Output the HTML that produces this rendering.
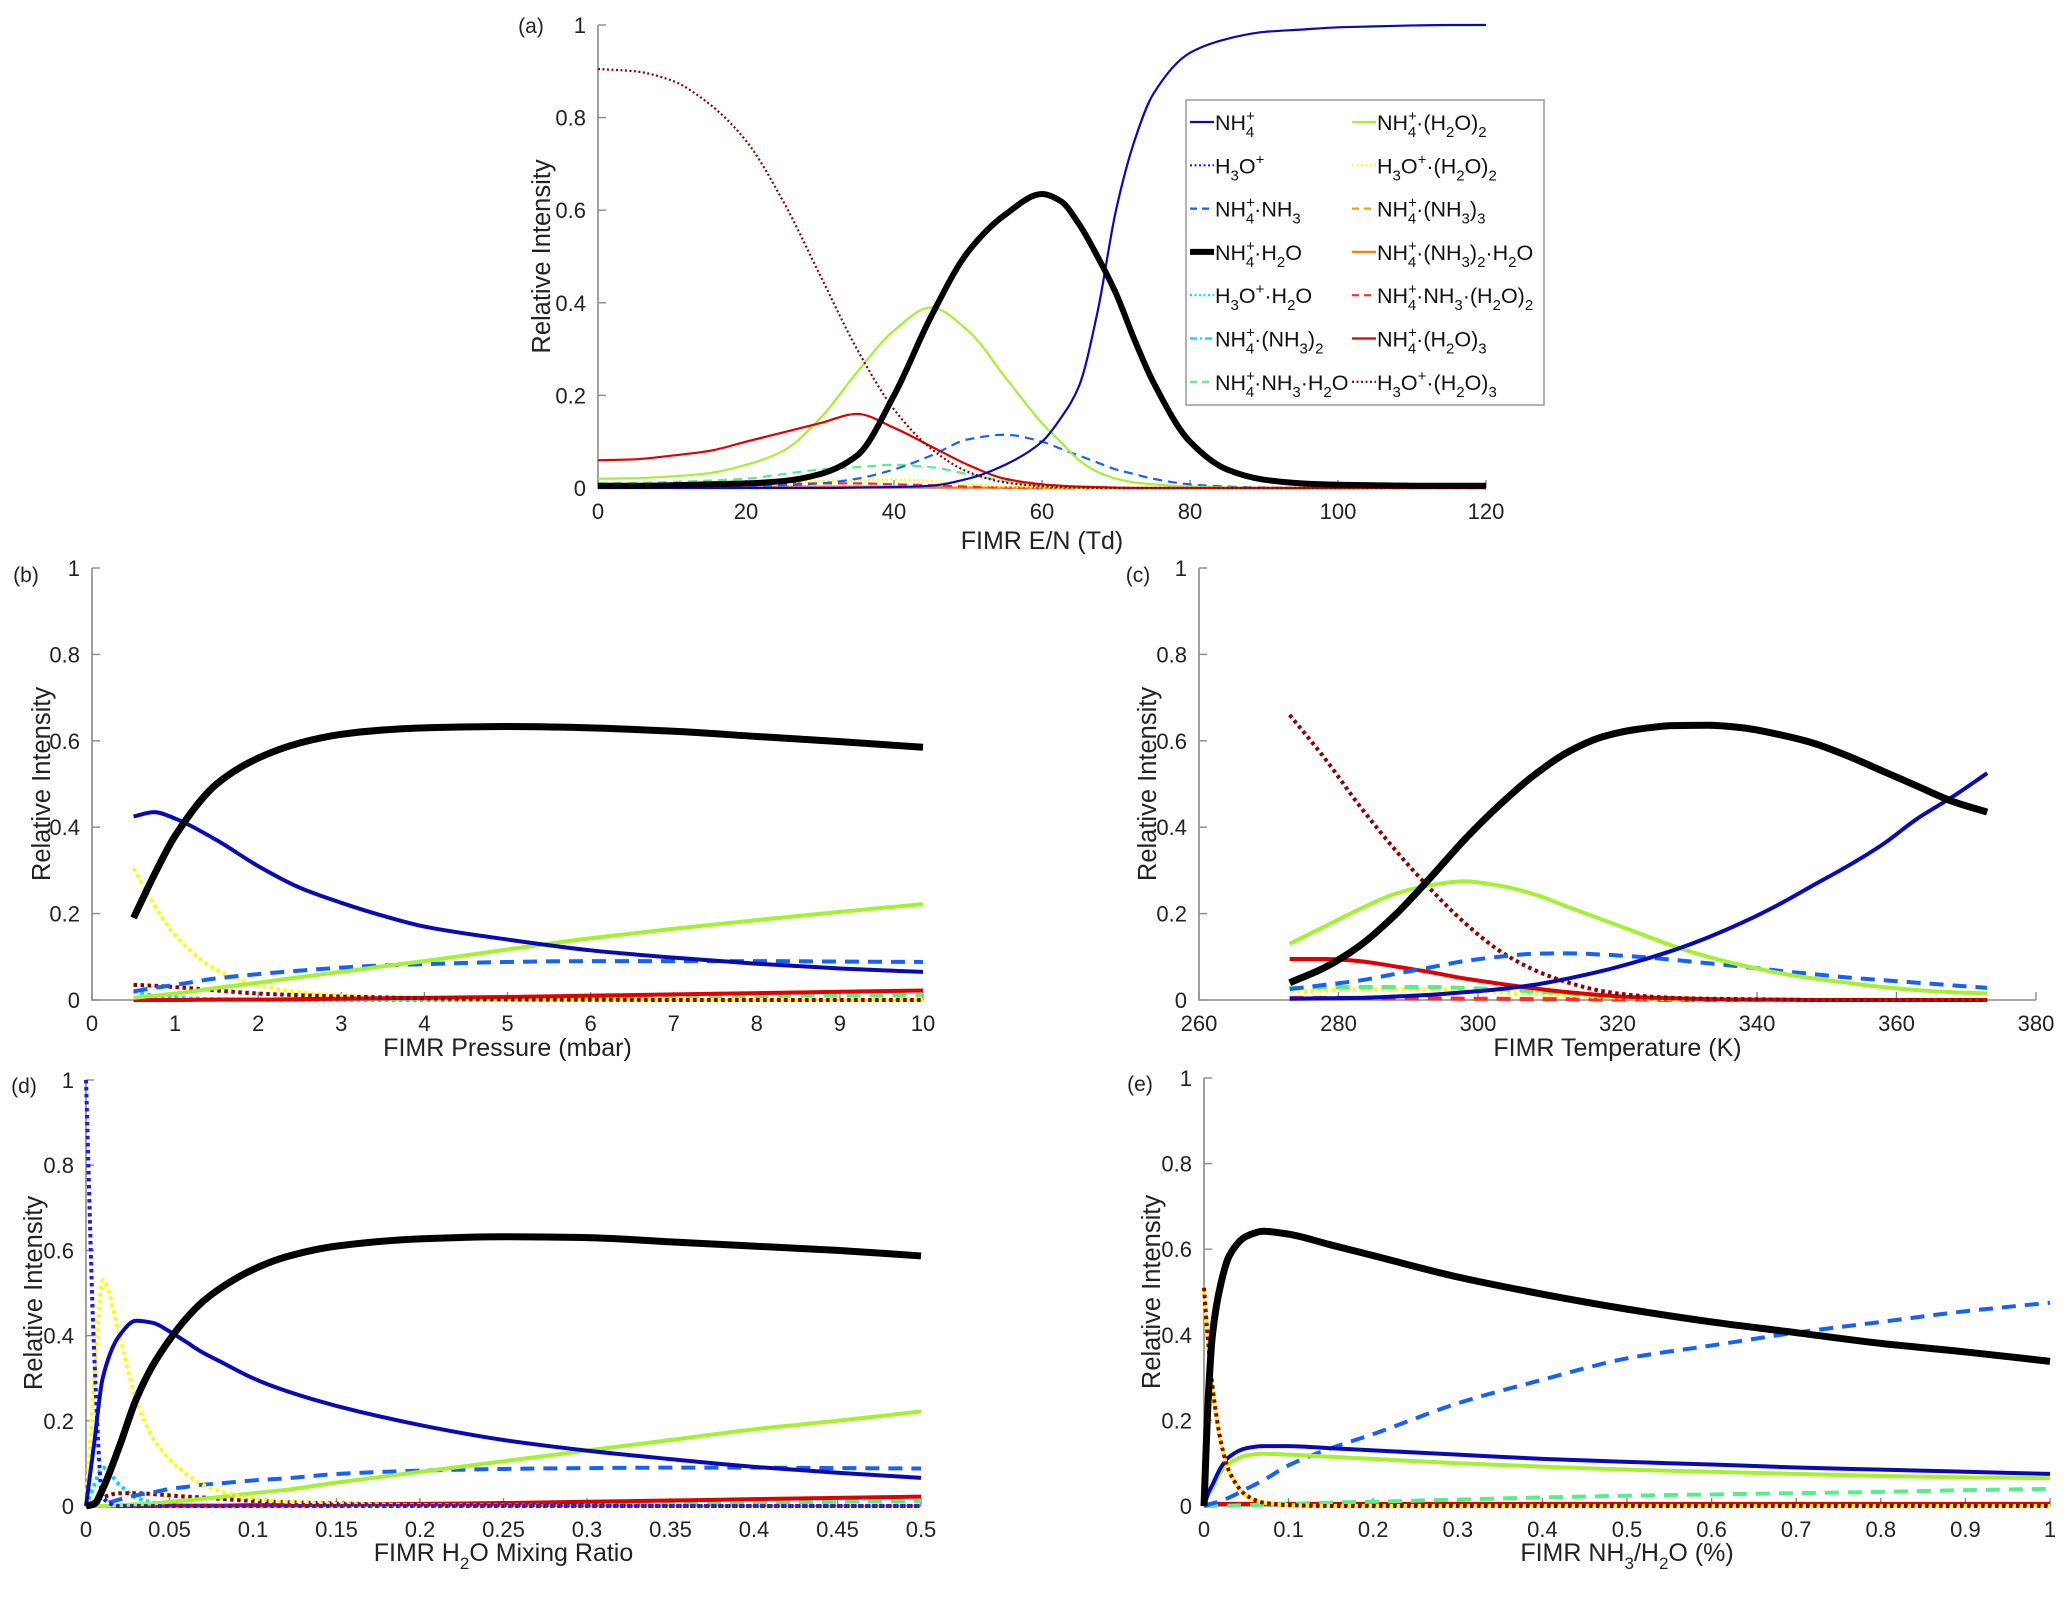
<!DOCTYPE html>
<html><head><meta charset="utf-8"><style>
html,body{margin:0;padding:0;background:#fff;}
svg{display:block;font-family:"Liberation Sans",sans-serif;}
</style></head><body>
<svg id="fig" width="2067" height="1597" viewBox="0 0 2067 1597" xmlns="http://www.w3.org/2000/svg">
<g id="layer"></g>
<g id="legend">
<rect x="1186" y="100" width="358" height="305" fill="#fff" stroke="#999" stroke-width="1.5"/>
</g>
</svg>
<script>
// ---------- Panel (a) data: FIMR E/N ----------
const aX=[0,5,10,15,20,25,30,35,40,45,50,55,60,62.5,65,67.5,70,72.5,75,80,85,90,95,100,105,110,115,120];
const aNH4=[0,0,0,0,0,0,0,0.001,0.002,0.005,0.02,0.05,0.1,0.15,0.22,0.38,0.6,0.75,0.85,0.94,0.97,0.985,0.99,0.995,0.997,0.999,1,1];
const aNH3=[0.002,0.002,0.002,0.003,0.004,0.006,0.01,0.02,0.04,0.07,0.105,0.115,0.1,0.085,0.07,0.055,0.04,0.03,0.02,0.008,0.003,0.001,0,0,0,0,0,0];
const aH2O=[0.005,0.005,0.006,0.008,0.01,0.015,0.03,0.07,0.2,0.37,0.51,0.59,0.635,0.62,0.57,0.5,0.42,0.32,0.23,0.1,0.04,0.018,0.01,0.007,0.006,0.005,0.005,0.005];
const aNH3H2O=[0.01,0.011,0.013,0.016,0.02,0.03,0.04,0.045,0.05,0.045,0.03,0.015,0.005,0.003,0.001,0,0,0,0,0,0,0,0,0,0,0,0,0];
const aH2O2=[0.02,0.021,0.025,0.032,0.05,0.08,0.15,0.25,0.34,0.39,0.34,0.24,0.14,0.1,0.06,0.035,0.02,0.012,0.008,0.003,0.001,0,0,0,0,0,0,0];
const aH3OH2O2=[0.008,0.008,0.009,0.01,0.01,0.012,0.015,0.017,0.018,0.015,0.008,0.003,0.001,0,0,0,0,0,0,0,0,0,0,0,0,0,0,0];
const aNH32H2O=[0.003,0.003,0.003,0.003,0.003,0.003,0.003,0.003,0.003,0.002,0.001,0.001,0,0,0,0,0,0,0,0,0,0,0,0,0,0,0,0];
const aNH3H2O2=[0.008,0.008,0.008,0.009,0.009,0.01,0.01,0.01,0.008,0.006,0.003,0.001,0,0,0,0,0,0,0,0,0,0,0,0,0,0,0,0];
const aH2O3=[0.06,0.062,0.07,0.08,0.1,0.12,0.14,0.16,0.13,0.09,0.05,0.02,0.008,0.005,0.003,0.002,0.001,0,0,0,0,0,0,0,0,0,0,0];
const aH3OH2O3=[0.905,0.9,0.88,0.83,0.75,0.62,0.46,0.3,0.17,0.085,0.035,0.012,0.004,0.002,0.001,0,0,0,0,0,0,0,0,0,0,0,0,0];
const aXTicks=[0,20,40,60,80,100,120];
// ---------- Panel (b) data: FIMR Pressure ----------
const bX=[0.5,0.75,1,1.5,2,2.5,3,3.5,4,5,6,7,8,9,10];
const bNH4=[0.425,0.435,0.42,0.37,0.31,0.26,0.225,0.195,0.17,0.14,0.115,0.098,0.084,0.073,0.065];
const bNH3=[0.02,0.028,0.035,0.05,0.06,0.068,0.075,0.08,0.083,0.088,0.09,0.09,0.09,0.089,0.088];
const bH2O=[0.19,0.29,0.38,0.5,0.56,0.595,0.615,0.625,0.63,0.633,0.63,0.622,0.61,0.598,0.585];
const bH3OH2O=[0.02,0.01,0.005,0.002,0.001,0,0,0,0,0,0,0,0,0,0];
const bNH3H2O=[0,0,0,0.001,0.001,0.002,0.002,0.003,0.003,0.005,0.006,0.008,0.009,0.011,0.012];
const bH2O2=[0.005,0.01,0.015,0.028,0.04,0.053,0.065,0.078,0.09,0.117,0.143,0.165,0.185,0.204,0.222];
const bH3OH2O2=[0.305,0.22,0.15,0.07,0.035,0.018,0.01,0.006,0.004,0.002,0.001,0,0,0,0];
const bH2O3=[0,0,0,0.001,0.001,0.002,0.003,0.004,0.005,0.007,0.01,0.013,0.016,0.019,0.022];
const bH3OH2O3=[0.035,0.033,0.03,0.022,0.015,0.011,0.008,0.006,0.004,0.002,0.001,0,0,0,0];
const bXTicks=[0,1,2,3,4,5,6,7,8,9,10];
// ---------- Panel (c) data: FIMR Temperature ----------
const cX=[273,278,283,288,293,298,303,308,313,318,323,328,333,338,343,348,353,358,363,368,373];
const cNH4=[0.003,0.004,0.005,0.008,0.012,0.018,0.025,0.035,0.05,0.068,0.09,0.115,0.145,0.18,0.22,0.265,0.31,0.36,0.42,0.47,0.525];
const cNH3=[0.025,0.035,0.045,0.06,0.075,0.09,0.1,0.107,0.108,0.105,0.1,0.093,0.085,0.077,0.068,0.06,0.052,0.046,0.04,0.034,0.028];
const cH2O=[0.04,0.075,0.125,0.195,0.28,0.37,0.45,0.52,0.575,0.61,0.627,0.635,0.636,0.63,0.615,0.595,0.565,0.53,0.495,0.46,0.435];
const cNH3H2O=[0.028,0.029,0.03,0.03,0.03,0.028,0.025,0.02,0.015,0.01,0.007,0.004,0.002,0.001,0,0,0,0,0,0,0];
const cH2O2=[0.13,0.17,0.21,0.245,0.265,0.275,0.265,0.245,0.215,0.185,0.155,0.125,0.1,0.08,0.063,0.05,0.04,0.03,0.023,0.018,0.015];
const cH3OH2O2=[0.02,0.022,0.025,0.025,0.025,0.022,0.018,0.014,0.01,0.007,0.004,0.002,0.001,0,0,0,0,0,0,0,0];
const cNH3H2O2=[0.005,0.005,0.005,0.004,0.004,0.003,0.003,0.002,0.002,0.001,0.001,0,0,0,0,0,0,0,0,0,0];
const cH2O3=[0.095,0.095,0.09,0.078,0.065,0.05,0.038,0.027,0.018,0.011,0.006,0.004,0.002,0.001,0.001,0,0,0,0,0,0];
const cH3OH2O3=[0.66,0.56,0.45,0.35,0.26,0.18,0.115,0.07,0.04,0.02,0.01,0.005,0.003,0.002,0.001,0,0,0,0,0,0];
const cXTicks=[260,280,300,320,340,360,380];
// ---------- Panel (d) data: FIMR H2O mixing ratio ----------
const dX=[0,0.005,0.01,0.02,0.03,0.04,0.05,0.06,0.07,0.08,0.1,0.12,0.15,0.2,0.25,0.3,0.35,0.4,0.45,0.5];
const dNH4=[0,0.15,0.3,0.4,0.435,0.43,0.41,0.385,0.36,0.34,0.3,0.27,0.235,0.19,0.155,0.13,0.11,0.092,0.078,0.066];
const dH3O=[1,0.35,0.02,0,0,0,0,0,0,0,0,0,0,0,0,0,0,0,0,0];
const dNH3=[0,0.002,0.005,0.015,0.025,0.032,0.04,0.045,0.05,0.053,0.06,0.065,0.075,0.083,0.087,0.089,0.09,0.09,0.089,0.088];
const dH2O=[0,0.005,0.04,0.14,0.25,0.33,0.39,0.44,0.48,0.51,0.555,0.585,0.61,0.627,0.632,0.63,0.62,0.61,0.6,0.587];
const dH3OH2O=[0,0.05,0.09,0.05,0.02,0.008,0.003,0.001,0,0,0,0,0,0,0,0,0,0,0,0];
const dNH3H2O=[0,0,0,0,0,0,0,0.001,0.001,0.001,0.001,0.001,0.002,0.003,0.004,0.005,0.007,0.008,0.01,0.012];
const dH2O2=[0,0,0,0.002,0.004,0.006,0.01,0.013,0.017,0.021,0.03,0.038,0.055,0.08,0.105,0.13,0.155,0.18,0.2,0.222];
const dH3OH2O2=[0,0.3,0.53,0.4,0.25,0.16,0.11,0.075,0.05,0.035,0.018,0.01,0.005,0.002,0.001,0,0,0,0,0];
const dH2O3=[0,0,0,0,0,0,0.001,0.001,0.001,0.001,0.002,0.002,0.003,0.005,0.007,0.01,0.013,0.016,0.019,0.022];
const dH3OH2O3=[0,0.01,0.02,0.03,0.03,0.028,0.025,0.022,0.02,0.017,0.012,0.009,0.006,0.003,0.002,0.001,0,0,0,0];
const dXTicks=[0,0.05,0.1,0.15,0.2,0.25,0.3,0.35,0.4,0.45,0.5];
// ---------- Panel (e) data: FIMR NH3/H2O ----------
const eX=[0,0.005,0.01,0.02,0.03,0.05,0.07,0.1,0.15,0.2,0.3,0.4,0.5,0.6,0.7,0.8,0.9,1];
const eNH4=[0,0.03,0.05,0.09,0.115,0.135,0.14,0.14,0.135,0.13,0.12,0.11,0.103,0.097,0.09,0.085,0.08,0.075];
const eNH3=[0,0.003,0.006,0.012,0.02,0.04,0.06,0.095,0.135,0.168,0.24,0.295,0.345,0.375,0.405,0.43,0.455,0.475];
const eH2O=[0,0.25,0.4,0.52,0.585,0.63,0.642,0.635,0.61,0.585,0.535,0.495,0.46,0.43,0.405,0.38,0.36,0.338];
const eNH3H2O=[0,0,0,0.001,0.001,0.002,0.003,0.005,0.008,0.01,0.015,0.02,0.024,0.027,0.03,0.033,0.037,0.04];
const eH2O2=[0,0.025,0.04,0.08,0.1,0.118,0.122,0.12,0.115,0.11,0.1,0.092,0.085,0.08,0.075,0.07,0.067,0.065];
const eH3OH2O2=[0.5,0.37,0.27,0.145,0.078,0.024,0.008,0.002,0,0,0,0,0,0,0,0,0,0];
const eH2O3=[0,0.004,0.005,0.005,0.005,0.005,0.005,0.005,0.005,0.005,0.005,0.005,0.005,0.005,0.005,0.005,0.005,0.005];
const eH3OH2O3=[0.51,0.38,0.28,0.15,0.08,0.025,0.008,0.002,0,0,0,0,0,0,0,0,0,0];
const eXTicks=[0,0.1,0.2,0.3,0.4,0.5,0.6,0.7,0.8,0.9,1];
const yTicks=[0,0.2,0.4,0.6,0.8,1];
const yTickLabels=["0","0.2","0.4","0.6","0.8","1"];

const NS="http://www.w3.org/2000/svg";
const layer=document.getElementById('layer');
const STY={
 nh4:{c:"#0a0ab4",d:null},
 h3o:{c:"#1a1aff",d:"dot"},
 nh3:{c:"#1560ff",d:"dash"},
 h2o:{c:"#000",d:null,black:true},
 h3oh2o:{c:"#00d8ff",d:"dot"},
 nh3h2o:{c:"#55ee88",d:"dash"},
 h2o2:{c:"#a4f032",d:null},
 h3oh2o2:{c:"#ffff00",d:"dot"},
 nh32h2o:{c:"#ff7a10",d:null},
 nh3h2o2:{c:"#ff2a2a",d:"dash"},
 h2o3:{c:"#e00000",d:null},
 h3oh2o3:{c:"#900000",d:"dot"}
};
const panels=[
 {id:"a",x0:598,x1:1486,y0:488,y1:25,xmin:0,xmax:120,xt:aXTicks,xl:"FIMR E/N (Td)",xlY:549,ylX:541,lab:[531,33],thin:true,X:aX,
  S:[["nh32h2o",aNH32H2O],["nh3h2o2",aNH3H2O2],["h3oh2o2",aH3OH2O2],["nh3h2o",aNH3H2O],["nh3",aNH3],["h2o2",aH2O2],["h2o3",aH2O3],["h3oh2o3",aH3OH2O3],["nh4",aNH4],["h2o",aH2O]]},
 {id:"b",x0:92,x1:923,y0:1000,y1:568,xmin:0,xmax:10,xt:bXTicks,xl:"FIMR Pressure (mbar)",xlY:1056,ylX:41,lab:[26,582],X:bX,
  S:[["h3oh2o",bH3OH2O],["nh3h2o",bNH3H2O],["h3oh2o2",bH3OH2O2],["h2o3",bH2O3],["h3oh2o3",bH3OH2O3],["nh3",bNH3],["h2o2",bH2O2],["nh4",bNH4],["h2o",bH2O]]},
 {id:"c",x0:1199,x1:2036,y0:1000,y1:568,xmin:260,xmax:380,xt:cXTicks,xl:"FIMR Temperature (K)",xlY:1056,ylX:1147,lab:[1138,582],X:cX,
  S:[["nh3h2o2",cNH3H2O2],["h3oh2o2",cH3OH2O2],["nh3h2o",cNH3H2O],["h2o3",cH2O3],["h3oh2o3",cH3OH2O3],["nh3",cNH3],["h2o2",cH2O2],["nh4",cNH4],["h2o",cH2O]]},
 {id:"d",x0:86,x1:921,y0:1506,y1:1080,xmin:0,xmax:0.5,xt:dXTicks,xl:"FIMR H2O Mixing Ratio",xlY:1561,ylX:33,lab:[24,1093],X:dX,
  S:[["h3oh2o",dH3OH2O],["nh3h2o",dNH3H2O],["h2o3",dH2O3],["h3oh2o3",dH3OH2O3],["nh3",dNH3],["h2o2",dH2O2],["h3oh2o2",dH3OH2O2],["h3o",dH3O],["nh4",dNH4],["h2o",dH2O]]},
 {id:"e",x0:1204,x1:2050,y0:1506,y1:1078,xmin:0,xmax:1,xt:eXTicks,xl:"FIMR NH3/H2O (%)",xlY:1561,ylX:1151,lab:[1140,1091],X:eX,
  S:[["h2o3",eH2O3],["nh3h2o",eNH3H2O],["nh3",eNH3],["h2o2",eH2O2],["nh4",eNH4],["h3oh2o2",eH3OH2O2],["h3oh2o3",eH3OH2O3],["h2o",eH2O]]}
];
function mk(tag,attrs,parent){const e=document.createElementNS(NS,tag);for(const k in attrs)e.setAttribute(k,attrs[k]);(parent||layer).appendChild(e);return e;}
function monoPath(px,py){
 const n=px.length;if(n<2)return "";
 const dx=[],m=[],t=[];
 for(let i=0;i<n-1;i++){dx.push(px[i+1]-px[i]);m.push((py[i+1]-py[i])/dx[i]);}
 t[0]=m[0];t[n-1]=m[n-2];
 for(let i=1;i<n-1;i++){t[i]=(m[i-1]*m[i]<=0)?0:(dx[i-1]+dx[i])*3/((2*dx[i]+dx[i-1])/m[i-1]+(dx[i]+2*dx[i-1])/m[i]);}
 let d="M"+px[0].toFixed(2)+","+py[0].toFixed(2);
 for(let i=0;i<n-1;i++){const h=dx[i]/3;
  d+="C"+(px[i]+h).toFixed(2)+","+(py[i]+t[i]*h).toFixed(2)+" "+(px[i+1]-h).toFixed(2)+","+(py[i+1]-t[i+1]*h).toFixed(2)+" "+px[i+1].toFixed(2)+","+py[i+1].toFixed(2);}
 return d;
}
panels.forEach(P=>{
 const g=mk('g',{});
 
 
 const X=v=>P.x0+(v-P.xmin)/(P.xmax-P.xmin)*(P.x1-P.x0);
 const Y=v=>P.y0+(v-0)*(P.y1-P.y0);
 const ax=mk('path',{d:`M${P.x0},${P.y1}V${P.y0}H${P.x1}`,stroke:'#8a8a8a','stroke-width':1.6,fill:'none'},g);
 
 
 P.xt.forEach((v,i)=>{const x=X(v);
  mk('line',{x1:x,x2:x,y1:P.y0,y2:P.y0-8,stroke:'#8a8a8a','stroke-width':1.4},g);
  const t=mk('text',{x:x,y:P.y0+31,'font-size':22,'text-anchor':'middle',fill:'#222'},g);
  t.textContent=String(v);
  
  
 });
 yTicks.forEach((v,i)=>{const y=Y(v);
  mk('line',{x1:P.x0,x2:P.x0+8,y1:y,y2:y,stroke:'#8a8a8a','stroke-width':1.4},g);
  const t=mk('text',{x:P.x0-12,y:y+8,'font-size':22,'text-anchor':'end',fill:'#222'},g);
  t.textContent=yTickLabels[i];
  
  
 });
 const yl=mk('text',{x:0,y:0,'font-size':25.5,'text-anchor':'middle',fill:'#222',transform:`translate(${P.ylX+9},${(P.y0+P.y1)/2}) rotate(-90)`},g);
 yl.textContent="Relative Intensity";
 
 
 const xc=(P.x0+P.x1)/2;
 let xl;
 if(P.id==='d'){xl=mk('text',{x:xc,y:P.xlY,'font-size':25,'text-anchor':'middle',fill:'#222'},g);
  xl.innerHTML='FIMR H<tspan font-size="17" dy="8">2</tspan><tspan dy="-8">O Mixing Ratio</tspan>';}
 else if(P.id==='e'){xl=mk('text',{x:xc,y:P.xlY,'font-size':25,'text-anchor':'middle',fill:'#222'},g);
  xl.innerHTML='FIMR NH<tspan font-size="17" dy="8">3</tspan><tspan dy="-8">/H</tspan><tspan font-size="17" dy="8">2</tspan><tspan dy="-8">O (%)</tspan>';}
 else{xl=mk('text',{x:xc,y:P.xlY,'font-size':25,'text-anchor':'middle',fill:'#222'},g);xl.textContent=P.xl;}
 
 
 const pl=mk('text',{x:P.lab[0],y:P.lab[1],'font-size':21,'text-anchor':'middle',fill:'#222'},g);
 pl.textContent='('+P.id+')';
 
 
 P.S.forEach(([key,arr])=>{
  const st=STY[key];
  const w=P.thin?(st.black?6:2.2):(st.black?7:4);
  const px=P.X.map(X),py=arr.map(Y);
  const a={d:monoPath(px,py),fill:'none',stroke:st.c,'stroke-width':w,'stroke-linejoin':'round'};
  if(st.d==='dot')a['stroke-dasharray']=P.thin?'2,2.5':'3.5,3.5';
  if(st.d==='dash')a['stroke-dasharray']=P.thin?'9,6':'14,9';
  const p=mk('path',a,g);
  
  
 });
});
const LEG=[
 ["nh4",'NH<tspan dy="-9" font-size="15">+</tspan><tspan dy="16" dx="-9" font-size="15">4</tspan>'],
 ["h3o",'H<tspan dy="7" font-size="15">3</tspan><tspan dy="-7">O</tspan><tspan dy="-9" font-size="15">+</tspan>'],
 ["nh3",'NH<tspan dy="-9" font-size="15">+</tspan><tspan dy="16" dx="-9" font-size="15">4</tspan><tspan dy="-7">·NH</tspan><tspan dy="7" font-size="15">3</tspan>'],
 ["h2o",'NH<tspan dy="-9" font-size="15">+</tspan><tspan dy="16" dx="-9" font-size="15">4</tspan><tspan dy="-7">·H</tspan><tspan dy="7" font-size="15">2</tspan><tspan dy="-7">O</tspan>'],
 ["h3oh2o",'H<tspan dy="7" font-size="15">3</tspan><tspan dy="-7">O</tspan><tspan dy="-9" font-size="15">+</tspan><tspan dy="9">·H</tspan><tspan dy="7" font-size="15">2</tspan><tspan dy="-7">O</tspan>'],
 ["nh32",'NH<tspan dy="-9" font-size="15">+</tspan><tspan dy="16" dx="-9" font-size="15">4</tspan><tspan dy="-7">·(NH</tspan><tspan dy="7" font-size="15">3</tspan><tspan dy="-7">)</tspan><tspan dy="7" font-size="15">2</tspan>'],
 ["nh3h2o",'NH<tspan dy="-9" font-size="15">+</tspan><tspan dy="16" dx="-9" font-size="15">4</tspan><tspan dy="-7">·NH</tspan><tspan dy="7" font-size="15">3</tspan><tspan dy="-7">·H</tspan><tspan dy="7" font-size="15">2</tspan><tspan dy="-7">O</tspan>'],
 ["h2o2",'NH<tspan dy="-9" font-size="15">+</tspan><tspan dy="16" dx="-9" font-size="15">4</tspan><tspan dy="-7">·(H</tspan><tspan dy="7" font-size="15">2</tspan><tspan dy="-7">O)</tspan><tspan dy="7" font-size="15">2</tspan>'],
 ["h3oh2o2",'H<tspan dy="7" font-size="15">3</tspan><tspan dy="-7">O</tspan><tspan dy="-9" font-size="15">+</tspan><tspan dy="9">·(H</tspan><tspan dy="7" font-size="15">2</tspan><tspan dy="-7">O)</tspan><tspan dy="7" font-size="15">2</tspan>'],
 ["nh33",'NH<tspan dy="-9" font-size="15">+</tspan><tspan dy="16" dx="-9" font-size="15">4</tspan><tspan dy="-7">·(NH</tspan><tspan dy="7" font-size="15">3</tspan><tspan dy="-7">)</tspan><tspan dy="7" font-size="15">3</tspan>'],
 ["nh32h2o",'NH<tspan dy="-9" font-size="15">+</tspan><tspan dy="16" dx="-9" font-size="15">4</tspan><tspan dy="-7">·(NH</tspan><tspan dy="7" font-size="15">3</tspan><tspan dy="-7">)</tspan><tspan dy="7" font-size="15">2</tspan><tspan dy="-7">·H</tspan><tspan dy="7" font-size="15">2</tspan><tspan dy="-7">O</tspan>'],
 ["nh3h2o2",'NH<tspan dy="-9" font-size="15">+</tspan><tspan dy="16" dx="-9" font-size="15">4</tspan><tspan dy="-7">·NH</tspan><tspan dy="7" font-size="15">3</tspan><tspan dy="-7">·(H</tspan><tspan dy="7" font-size="15">2</tspan><tspan dy="-7">O)</tspan><tspan dy="7" font-size="15">2</tspan>'],
 ["h2o3",'NH<tspan dy="-9" font-size="15">+</tspan><tspan dy="16" dx="-9" font-size="15">4</tspan><tspan dy="-7">·(H</tspan><tspan dy="7" font-size="15">2</tspan><tspan dy="-7">O)</tspan><tspan dy="7" font-size="15">3</tspan>'],
 ["h3oh2o3",'H<tspan dy="7" font-size="15">3</tspan><tspan dy="-7">O</tspan><tspan dy="-9" font-size="15">+</tspan><tspan dy="9">·(H</tspan><tspan dy="7" font-size="15">2</tspan><tspan dy="-7">O)</tspan><tspan dy="7" font-size="15">3</tspan>']
];
const LSTY={nh32:{c:"#00d8ff",d:"dashdot"},nh33:{c:"#e8a800",d:"dash"}};
const lg=document.getElementById('legend');
LEG.forEach(([key,html],i)=>{
 const col=i<7?0:1,row=i%7;
 const lx=col?1352:1190,ty=130+row*43.3;
 const st=STY[key]||LSTY[key];
 const a={x1:lx,x2:lx+24,y1:ty-8,y2:ty-8,stroke:st.c,'stroke-width':st.black?6:2.2};
 if(st.d==='dot')a['stroke-dasharray']='2,2.5';
 if(st.d==='dash')a['stroke-dasharray']='7,5';
 if(st.d==='dashdot')a['stroke-dasharray']='7,3,2,3';
 const ln=mk('line',a,lg);
 
 
 const t=mk('text',{x:lx+25,y:ty,'font-size':21.5,fill:'#111'},lg);
 t.innerHTML=html;
 
 
});
</script>
</body></html>
